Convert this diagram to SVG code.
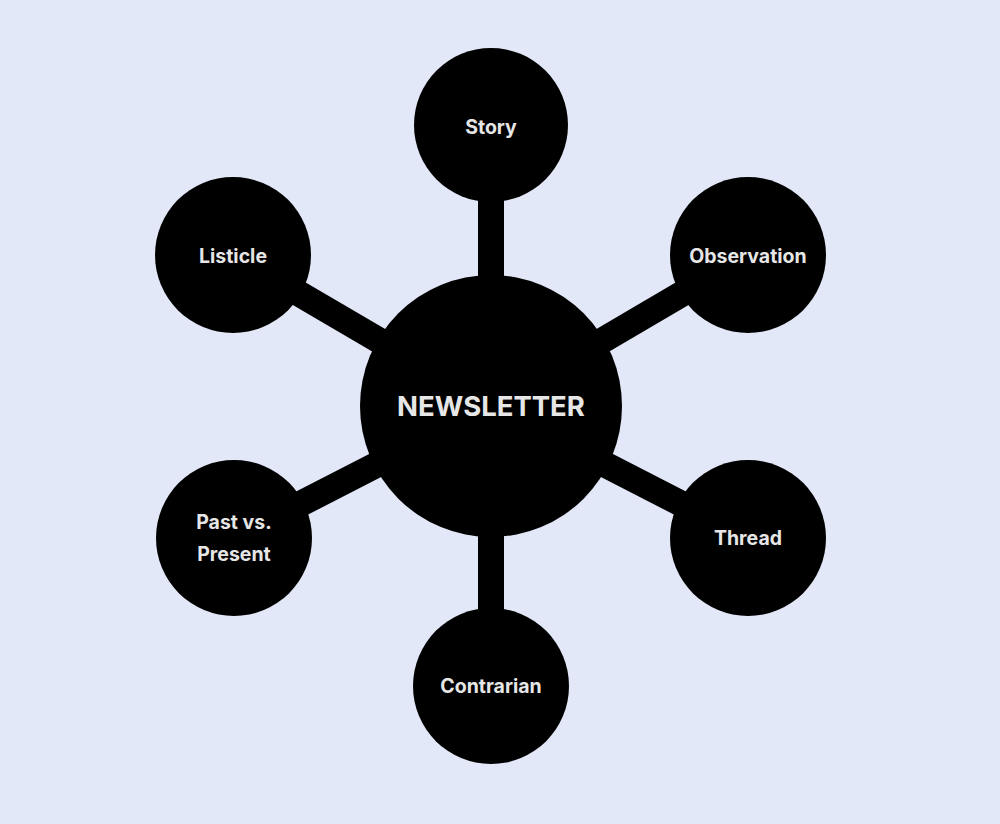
<svg xmlns="http://www.w3.org/2000/svg" width="1000" height="824" viewBox="0 0 1000 824">
<style>
.c{fill:#000}
.l{stroke:#000;stroke-width:26;stroke-linecap:butt}
.t{fill:#e6e6e6;font-family:Inter,"Noto Sans",sans-serif;font-weight:700;font-size:19.5px;text-anchor:middle}
.big{font-size:27.5px}
</style>
<rect width="1000" height="824" fill="#e3e8f8"/>
<g id="connectors">
<line class="l" x1="491" y1="406" x2="491" y2="125"/>
<line class="l" x1="491" y1="406" x2="233" y2="255"/>
<line class="l" x1="491" y1="406" x2="748" y2="255"/>
<line class="l" x1="491" y1="406" x2="234" y2="538"/>
<line class="l" x1="491" y1="406" x2="748" y2="538"/>
<line class="l" x1="491" y1="406" x2="491" y2="686"/>
</g>
<g id="newsletter"><circle class="c" cx="491" cy="406" r="131"/><text class="t big" x="491" y="416">NEWSLETTER</text></g>
<g id="story"><circle class="c" cx="491" cy="125" r="77"/><text class="t" x="491" y="134">Story</text></g>
<g id="listicle"><circle class="c" cx="233" cy="255" r="78"/><text class="t" x="233" y="263">Listicle</text></g>
<g id="observation"><circle class="c" cx="748" cy="255" r="78"/><text class="t" x="748" y="263">Observation</text></g>
<g id="past-vs-present"><circle class="c" cx="234" cy="538" r="78"/><text class="t" x="234" y="529">Past vs.</text><text class="t" x="234" y="561">Present</text></g>
<g id="thread"><circle class="c" cx="748" cy="538" r="78"/><text class="t" x="748" y="545">Thread</text></g>
<g id="contrarian"><circle class="c" cx="491" cy="686" r="78"/><text class="t" x="491" y="693">Contrarian</text></g>
</svg>
